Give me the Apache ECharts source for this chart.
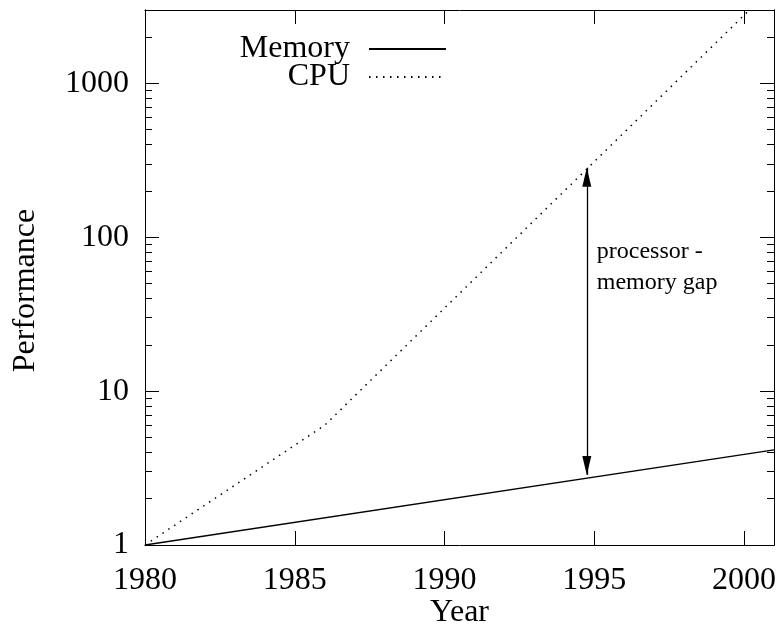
<!DOCTYPE html>
<html>
<head>
<meta charset="utf-8">
<script src="https://cdn.jsdelivr.net/npm/echarts@6/dist/echarts.min.js"></script>
<style>html,body{margin:0;padding:0;background:#fff;}#c{width:777px;height:630px;}</style>
</head>
<body>
<div id="c"></div>
<script>
// ---- data ----
const memoryYears = [1980, 2001];
const memoryValues = [1, 4.15];
const cpuYears = [1980, 1986, 2001];
const cpuValues = [1, 6, 4300];
const xTicks = [1980, 1985, 1990, 1995, 2000];
const yTicks = [1, 10, 100, 1000];
const yMinorTicks = [2,3,4,5,6,7,8,9,20,30,40,50,60,70,80,90,200,300,400,500,600,700,800,900,2000,3000];
const gapYear = 1994.75;
const gapTop = 283;
const gapBottom = 2.85;
const gapLabelValue = 64;
const gapText = 'processor -\nmemory gap';
const seriesNames = ['Memory', 'CPU'];

const FONT = "'Liberation Serif', 'Times New Roman', serif";
const chart = echarts.init(document.getElementById('c'), null, {renderer: 'canvas'});

function yAxisDef(pos, ticks, len, labels, name) {
  return {
    type: 'log', logBase: 10, min: 1, max: 3000, position: pos,
    axisLine: {show: true, lineStyle: {color: '#000', width: 1}},
    axisTick: {show: true, inside: true, length: len, customValues: ticks, lineStyle: {color: '#000', width: 1}},
    minorTick: {show: false},
    splitLine: {show: false},
    axisLabel: labels ? {show: true, customValues: labels, formatter: v => String(v), fontFamily: FONT, fontSize: 32, color: '#000', margin: 16} : {show: false},
    name: name || '',
    nameLocation: 'middle', nameGap: 103, nameRotate: 90,
    nameTextStyle: {fontFamily: FONT, fontSize: 32, color: '#000', padding: [0, 26, 0, 0]}
  };
}
function xAxisDef(pos, labels, name) {
  return {
    type: 'value', min: 1980, max: 2001, interval: 5, position: pos,
    axisLine: {show: true, lineStyle: {color: '#000', width: 1}},
    axisTick: {show: true, inside: true, length: 14, customValues: xTicks, lineStyle: {color: '#000', width: 1}},
    splitLine: {show: false},
    axisLabel: labels ? {show: true, customValues: xTicks, formatter: v => String(v), fontFamily: FONT, fontSize: 32, color: '#000', margin: 20} : {show: false},
    name: name || '', nameLocation: 'middle', nameGap: 52, nameMoveOverlap: false,
    nameTextStyle: {fontFamily: FONT, fontSize: 32, color: '#000'}
  };
}

const option = {
  backgroundColor: '#fff',
  animation: false,
  grid: {left: 145, right: 3, top: 10, bottom: 85, containLabel: false, outerBoundsMode: 'none'},
  legend: {
    data: seriesNames, right: 330, top: 33, orient: 'vertical', align: 'right',
    padding: 0, itemGap: -4, itemWidth: 77, itemHeight: 14,
    itemStyle: {color: 'rgba(0,0,0,0)', borderWidth: 0, opacity: 0},
    textStyle: {fontFamily: FONT, fontSize: 32, lineHeight: 27, color: '#000', padding: [0, 14, 0, 0]}
  },
  xAxis: [xAxisDef('bottom', true, 'Year'), xAxisDef('top', false)],
  yAxis: [
    yAxisDef('left', yTicks, 14, yTicks, 'Performance'),
    yAxisDef('left', yMinorTicks, 7, null),
    yAxisDef('right', yTicks, 14, null),
    yAxisDef('right', yMinorTicks, 7, null)
  ],
  series: [
    {
      name: seriesNames[0], type: 'line', xAxisIndex: 0, yAxisIndex: 0,
      data: memoryYears.map((y, i) => [y, memoryValues[i]]),
      symbol: 'none', clip: true,
      lineStyle: {color: '#000', width: 1.3, type: 'solid'},
      itemStyle: {color: '#000'},
      markLine: {
        silent: true, symbol: ['triangle', 'triangle'], symbolSize: [9, 19],
        symbolOffset: [[0, 9.5], [0, 9.5]],
        lineStyle: {color: '#000', width: 1.3, type: 'solid'},
        label: {show: false},
        data: [[{coord: [gapYear, gapTop]}, {coord: [gapYear, gapBottom]}]]
      },
      markPoint: {
        silent: true, symbol: 'circle', symbolSize: 0,
        data: [{coord: [gapYear, gapLabelValue]}],
        label: {show: true, position: 'right', distance: 10, formatter: gapText,
                fontFamily: FONT, fontSize: 24, lineHeight: 31, color: '#000', align: 'left'}
      }
    },
    {
      name: seriesNames[1], type: 'line', xAxisIndex: 0, yAxisIndex: 0,
      data: cpuYears.map((y, i) => [y, cpuValues[i]]),
      symbol: 'none', clip: true,
      lineStyle: {color: '#000', width: 1.5, type: [1.5, 5.5]},
      itemStyle: {color: '#000'}
    }
  ]
};
chart.setOption(option);
</script>
</body>
</html>
